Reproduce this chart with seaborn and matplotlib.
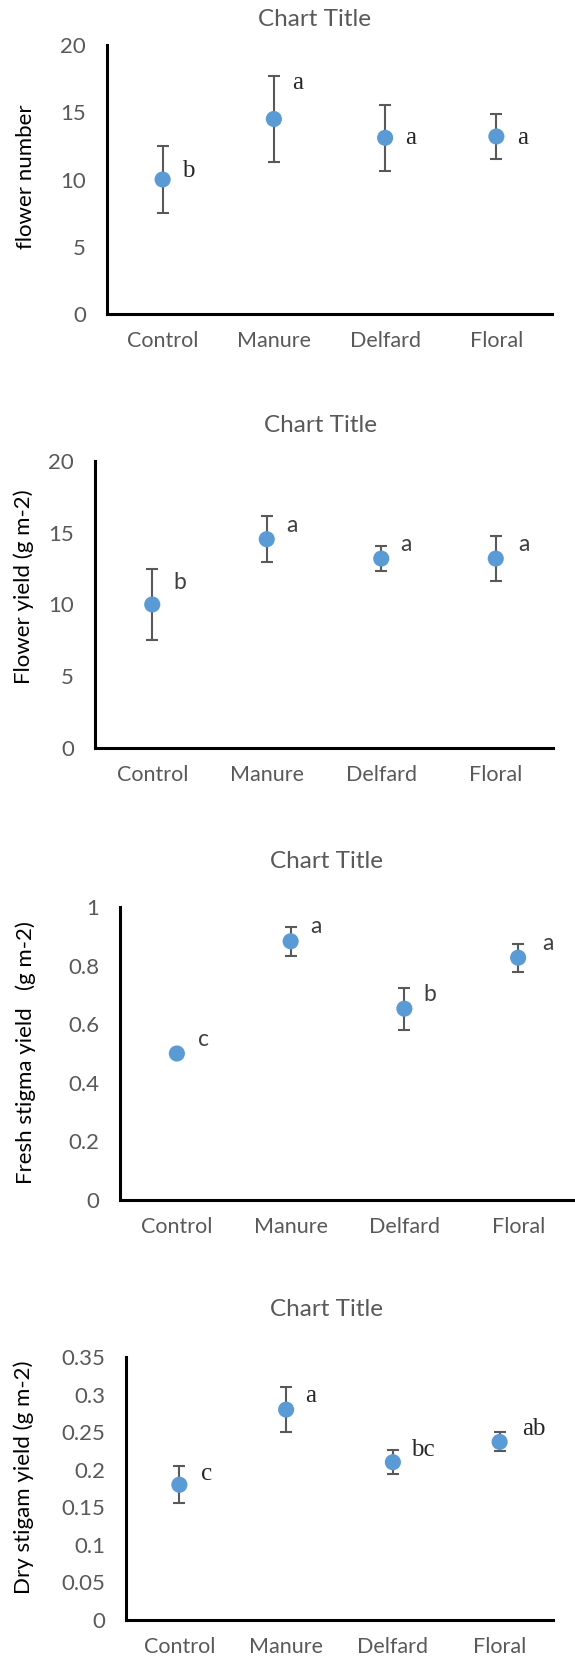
import numpy as np
import pandas as pd
import seaborn as sns
from matplotlib import pyplot as plt

# data
treatments = ["Control", "Manure", "Delfard", "Floral"]

flower_number = [10.0, 14.5, 13.1, 13.2]
flower_number_err = [2.5, 3.2, 2.45, 1.7]
flower_number_letters = ["b", "a", "a", "a"]

flower_yield = [10.0, 14.55, 13.2, 13.2]
flower_yield_err = [2.5, 1.6, 0.85, 1.55]
flower_yield_letters = ["b", "a", "a", "a"]

fresh_stigma = [0.5, 0.883, 0.653, 0.827]
fresh_stigma_err = [0.0, 0.05, 0.072, 0.048]
fresh_stigma_letters = ["c", "a", "b", "a"]

dry_stigma = [0.18, 0.28, 0.21, 0.237]
dry_stigma_err = [0.0245, 0.03, 0.016, 0.0127]
dry_stigma_letters = ["c", "a", "bc", "ab"]

W, H = 575, 1657
sns.set_theme(style="white")
plt.rcParams["font.family"] = ["Lato", "DejaVu Sans"]

fig = plt.figure(figsize=(W / 100, H / 100), dpi=100)

GREY = "#595959"
BLUE = "#5B9BD5"


def px_axes(left, right, top, bottom):
    return fig.add_axes([left / W, (H - bottom) / H, (right - left) / W, (bottom - top) / H])


def panel(ax, means, errs, letters, ylabel, yticks, ticklabels, ymax,
          title_xy, ylabel_xy, let_dx, let_y, serif):
    df = pd.DataFrame({"treatment": treatments, "mean": means, "err": errs})
    xs = np.arange(len(treatments))
    ax.errorbar(xs, df["mean"], yerr=df["err"], fmt="none", ecolor=GREY,
                elinewidth=1.5, capsize=4.3, capthick=1.5, zorder=2)
    sns.scatterplot(data=df, x="treatment", y="mean", ax=ax, color=BLUE,
                    s=135, edgecolor="none", zorder=3, legend=False)
    for i, (lab, dx, ly) in enumerate(zip(letters, let_dx, let_y)):
        if serif:
            ax.text(i + dx, ly, lab, ha="center", va="center", fontsize=18,
                    family=["Liberation Serif"], color="#262626")
        else:
            ax.text(i + dx, ly, lab, ha="center", va="center", fontsize=16.5,
                    color="#404040")
    ax.set_xlim(-0.5, 3.5)
    ax.set_ylim(0, ymax)
    ax.set_yticks(yticks)
    ax.set_yticklabels(ticklabels)
    ax.set_xlabel("")
    ax.set_ylabel("")
    ax.tick_params(axis="y", length=0, pad=15, labelsize=16, labelcolor=GREY)
    ax.tick_params(axis="x", length=0, pad=12, labelsize=15.5, labelcolor=GREY)
    for side in ["top", "right"]:
        ax.spines[side].set_visible(False)
    for side in ["left", "bottom"]:
        ax.spines[side].set_color("black")
        ax.spines[side].set_linewidth(2.2)
    ax.set_facecolor("white")
    fig.text(title_xy[0] / W, 1 - title_xy[1] / H, "Chart Title", ha="center",
             va="center", fontsize=17.5, color=GREY)
    fig.text(ylabel_xy[0] / W, 1 - ylabel_xy[1] / H, ylabel, ha="center",
             va="center", rotation=90, fontsize=16, color="black")


ax1 = px_axes(107, 552, 45, 314)
panel(ax1, flower_number, flower_number_err, flower_number_letters,
      "flower number", [0, 5, 10, 15, 20], ["0", "5", "10", "15", "20"], 20,
      (314, 19), (26, 177), [0.23, 0.21, 0.23, 0.235], [10.63, 17.15, 13.06, 13.06], True)

ax2 = px_axes(95, 553, 461, 748)
panel(ax2, flower_yield, flower_yield_err, flower_yield_letters,
      "Flower yield (g m-2)", [0, 5, 10, 15, 20], ["0", "5", "10", "15", "20"], 20,
      (321, 425), (24, 587), [0.24, 0.22, 0.215, 0.25], [11.5, 15.5, 14.15, 14.15], False)

ax3 = px_axes(120, 575, 907, 1200)
panel(ax3, fresh_stigma, fresh_stigma_err, fresh_stigma_letters,
      "Fresh stigma yield   (g m-2)", [0, 0.2, 0.4, 0.6, 0.8, 1.0],
      ["0", "0.2", "0.4", "0.6", "0.8", "1"], 1.0,
      (326, 862), (26, 1053), [0.23, 0.22, 0.22, 0.26], [0.547, 0.932, 0.703, 0.874], False)

ax4 = px_axes(126, 553, 1357, 1620)
panel(ax4, dry_stigma, dry_stigma_err, dry_stigma_letters,
      "Dry stigam yield (g m-2)", [0, 0.05, 0.1, 0.15, 0.2, 0.25, 0.3, 0.35],
      ["0", "0.05", "0.1", "0.15", "0.2", "0.25", "0.3", "0.35"], 0.35,
      (326, 1310), (24, 1477), [0.25, 0.23, 0.28, 0.32], [0.1946, 0.2976, 0.2266, 0.2546], True)

fig.savefig("out.png", dpi=100, facecolor="white")
